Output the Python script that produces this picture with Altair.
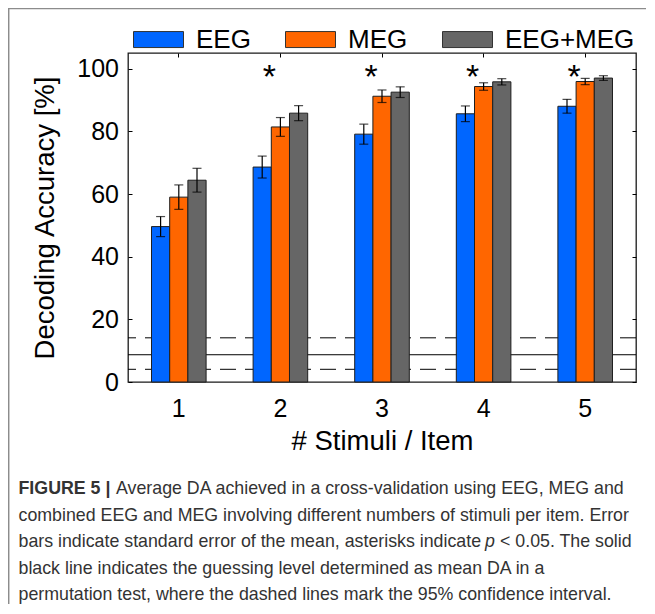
import altair as alt
import pandas as pd

# ---------------- data ----------------
categories = ["1", "2", "3", "4", "5"]
series = ["EEG", "MEG", "EEG+MEG"]
eeg = [49.6, 68.6, 79.1, 85.6, 88.0]
meg = [59.0, 81.4, 91.2, 94.3, 95.9]
both = [64.4, 85.8, 92.5, 95.8, 97.0]
eeg_err = [3.2, 3.5, 3.2, 2.5, 2.2]
meg_err = [3.9, 3.0, 2.0, 1.2, 1.0]
both_err = [3.8, 2.4, 1.7, 1.0, 0.75]
sig_categories = ["2", "3", "4", "5"]
sig_level = 100
guess_level = [8.7]
ci_levels = [4.05, 14.1]
colors = ["#0066FF", "#FF6600", "#666666"]
y_ticks = [0, 20, 40, 60, 80, 100]

caption_bold = "FIGURE 5 |"
caption_first = "Average DA achieved in a cross-validation using EEG, MEG and"
caption_second = "combined EEG and MEG involving different numbers of stimuli per item. Error"
caption_third_a = "bars indicate standard error of the mean, asterisks indicate"
caption_third_p = "p"
caption_third_b = "< 0.05. The solid"
caption_rest = [
    "black line indicates the guessing level determined as mean DA in a",
    "permutation test, where the dashed lines mark the 95% confidence interval.",
]

rows = []
for s, vals, errs in zip(series, [eeg, meg, both], [eeg_err, meg_err, both_err]):
    for c, v, e in zip(categories, vals, errs):
        rows.append({"cat": c, "series": s, "value": v, "lo": v - e, "hi": v + e})
df = pd.DataFrame(rows)
sig_df = pd.DataFrame({"cat": sig_categories, "y": [sig_level] * len(sig_categories)})
guess_df = pd.DataFrame({"level": guess_level})
ci_df = pd.DataFrame({"level": ci_levels})
one = pd.DataFrame({"k": [0]})

FONT = "Liberation Sans"
W, H = 508, 329
CAP_FS = 17.8
CAP_COLOR = "#333333"

xscale = alt.Scale(domain=categories, paddingInner=0.4626, paddingOuter=0.2313)
yscale = alt.Scale(domain=[0, 105], nice=False, zero=True)
xoff = alt.XOffset("series:N", sort=series,
                   scale=alt.Scale(domain=series, paddingInner=0, paddingOuter=0))

left_axis = alt.Axis(orient="left", values=y_ticks, tickSize=4, offset=-4, domain=False,
                     grid=False, tickColor="black", labelPadding=9.5, labelFontSize=25,
                     labelColor="black", title="Decoding Accuracy [%]", titleFontSize=27.5,
                     titleFontWeight="normal", titleColor="black", titleAngle=270,
                     titleAlign="center", titleBaseline="alphabetic", titleX=-78.5,
                     titleY=H / 2)
bottom_axis = alt.Axis(orient="bottom", ticks=False, tickSize=0, domain=False, grid=False,
                       labelPadding=14, labelFontSize=25, labelAngle=0, labelColor="black",
                       title="# Stimuli / Item", titleFontSize=27.5, titleFontWeight="normal",
                       titleColor="black", titleBaseline="alphabetic", titleX=W / 2,
                       titleY=67, titleAlign="center")
top_axis = alt.Axis(orient="top", labels=False, ticks=True, tickSize=4, offset=-4,
                    domain=False, grid=False, tickColor="black", title=None)
right_axis = alt.Axis(orient="right", values=y_ticks, labels=False, ticks=True, tickSize=4,
                      offset=-4, domain=False, grid=False, tickColor="black", title=None)

legend = alt.Legend(orient="none", legendX=5, legendY=-39.2, direction="horizontal",
                    title=None, symbolType="M-1,-0.32H1V0.32H-1Z", symbolSize=2500,
                    symbolStrokeColor="#333333", symbolStrokeWidth=1, symbolOpacity=1,
                    labelFontSize=26, labelColor="black", labelOffset=12,
                    columnPadding=32, padding=0, labelFont=FONT)

guess = alt.Chart(guess_df).mark_rule(color="black", strokeWidth=1).encode(
    y=alt.Y("level:Q", scale=yscale, axis=None))
ci = alt.Chart(ci_df).mark_rule(color="black", strokeWidth=1, strokeDash=[16, 9]).encode(
    y=alt.Y("level:Q", scale=yscale, axis=None))

bars = alt.Chart(df).mark_bar(stroke="#1f1f1f", strokeWidth=1, opacity=1).encode(
    x=alt.X("cat:N", scale=xscale, axis=bottom_axis, sort=categories),
    xOffset=xoff,
    y=alt.Y("value:Q", scale=yscale, axis=left_axis),
    color=alt.Color("series:N", sort=series,
                    scale=alt.Scale(domain=series, range=colors), legend=legend),
)

err = alt.Chart(df).mark_rule(color="black", strokeWidth=1.2).encode(
    x=alt.X("cat:N", scale=xscale, axis=None, sort=categories),
    xOffset=xoff,
    y=alt.Y("lo:Q", scale=yscale, axis=right_axis),
    y2="hi:Q",
)
cap_lo = alt.Chart(df).mark_tick(color="black", thickness=1.2, size=9).encode(
    x=alt.X("cat:N", scale=xscale, axis=None, sort=categories),
    xOffset=xoff,
    y=alt.Y("lo:Q", scale=yscale, axis=None),
)
cap_hi = alt.Chart(df).mark_tick(color="black", thickness=1.2, size=9).encode(
    x=alt.X("cat:N", scale=xscale, axis=None, sort=categories),
    xOffset=xoff,
    y=alt.Y("hi:Q", scale=yscale, axis=None),
)

stars = alt.Chart(sig_df).mark_text(text="*", fontSize=34, font=FONT, color="black",
                                    dx=-11, dy=19, baseline="alphabetic").encode(
    x=alt.X("cat:N", scale=xscale, axis=top_axis, sort=categories),
    y=alt.Y("y:Q", scale=yscale, axis=None),
)

border_left = alt.Chart(one).mark_rule(color="#8c8c8c", strokeWidth=1.5).encode(
    x=alt.value(-119.3), y=alt.value(-44.5), y2=alt.value(570))
border_top = alt.Chart(one).mark_rule(color="#8c8c8c", strokeWidth=1.5).encode(
    x=alt.value(-120), x2=alt.value(530), y=alt.value(-44.5))


def cap_text(text, x, y, **kw):
    return alt.Chart(one).mark_text(text=text, font=FONT, fontSize=CAP_FS, align="left",
                                    baseline="alphabetic", color=CAP_COLOR, **kw).encode(
        x=alt.value(x), y=alt.value(y))


LH = 26.6
Y1 = 441
txt_bold = cap_text(caption_bold, -109.5, Y1, fontWeight="bold")
txt_first = cap_text(caption_first, -12, Y1)
txt_second = cap_text(caption_second, -109.5, Y1 + LH)
txt_third_a = cap_text(caption_third_a, -109.5, Y1 + 2 * LH)
txt_third_p = cap_text(caption_third_p, 357, Y1 + 2 * LH, fontStyle="italic")
txt_third_b = cap_text(caption_third_b, 372, Y1 + 2 * LH)
txt_rest = cap_text(caption_rest, -109.5, Y1 + 3 * LH, lineHeight=LH)

chart = alt.layer(
    guess, ci, bars, err, cap_lo, cap_hi, stars,
    border_left, border_top, txt_bold, txt_first, txt_second,
    txt_third_a, txt_third_p, txt_third_b, txt_rest,
).resolve_axis(x="independent", y="independent").properties(
    width=W, height=H,
    padding={"left": 120, "top": 45, "right": 10, "bottom": 222},
    autosize=alt.AutoSizeParams(type="none"),
    background="white",
).configure(font=FONT).configure_view(stroke="#1a1a1a", strokeWidth=1.3)

chart.save("out.html", embed_options={"renderer": "svg", "actions": False})
